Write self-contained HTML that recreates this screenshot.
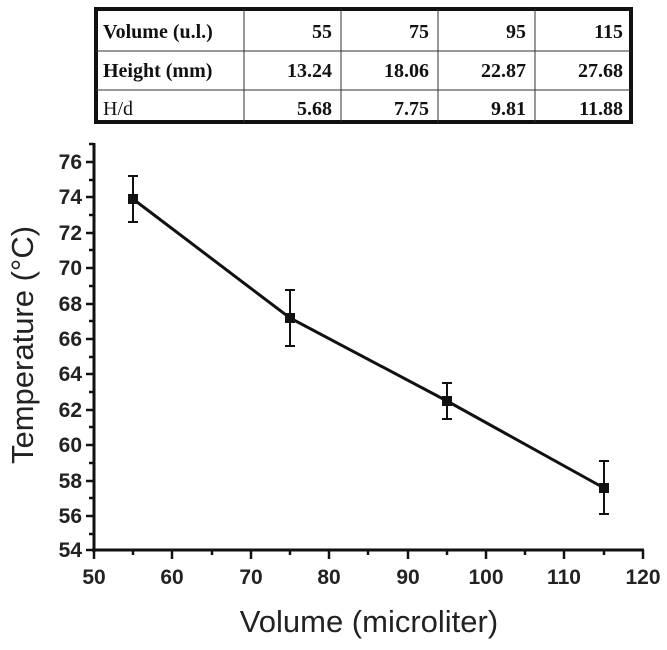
<!DOCTYPE html>
<html><head><meta charset="utf-8"><style>
body{margin:0;background:#fff;width:667px;height:645px;overflow:hidden}
</style></head><body>
<svg width="667" height="645" xmlns="http://www.w3.org/2000/svg" font-family="Liberation Sans, sans-serif">
<!-- table -->
<g font-family="Liberation Serif, serif" font-weight="bold" font-size="20" fill="#111">
<rect x="96" y="9" width="535" height="113" fill="none" stroke="#111" stroke-width="4"/>
<line x1="96" y1="51" x2="631" y2="51" stroke="#333" stroke-width="1"/>
<line x1="96" y1="90" x2="631" y2="90" stroke="#333" stroke-width="1"/>
<line x1="244" y1="9" x2="244" y2="122" stroke="#333" stroke-width="1"/>
<line x1="341" y1="9" x2="341" y2="122" stroke="#333" stroke-width="1"/>
<line x1="438" y1="9" x2="438" y2="122" stroke="#333" stroke-width="1"/>
<line x1="535" y1="9" x2="535" y2="122" stroke="#333" stroke-width="1"/>
<text x="103" y="38">Volume (u.l.)</text>
<text x="103" y="77">Height (mm)</text>
<text x="103" y="115" font-weight="normal">H/d</text>
<g text-anchor="end">
<text x="332" y="38">55</text><text x="429" y="38">75</text><text x="526" y="38">95</text><text x="623" y="38">115</text>
<text x="332" y="77">13.24</text><text x="429" y="77">18.06</text><text x="526" y="77">22.87</text><text x="623" y="77">27.68</text>
<text x="332" y="115">5.68</text><text x="429" y="115">7.75</text><text x="526" y="115">9.81</text><text x="623" y="115">11.88</text>
</g></g>
<!-- axes -->
<g stroke="#111" stroke-width="3" fill="none">
<line x1="94" y1="143" x2="94" y2="552"/>
<line x1="92" y1="550" x2="644" y2="550"/>
</g>
<g stroke="#111" stroke-width="2.5">
<line x1="86" y1="162" x2="94" y2="162"/><line x1="86" y1="197" x2="94" y2="197"/><line x1="86" y1="233" x2="94" y2="233"/><line x1="86" y1="268" x2="94" y2="268"/><line x1="86" y1="304" x2="94" y2="304"/><line x1="86" y1="339" x2="94" y2="339"/><line x1="86" y1="374" x2="94" y2="374"/><line x1="86" y1="410" x2="94" y2="410"/><line x1="86" y1="445" x2="94" y2="445"/><line x1="86" y1="481" x2="94" y2="481"/><line x1="86" y1="516" x2="94" y2="516"/><line x1="86" y1="550" x2="94" y2="550"/>
<line x1="89" y1="144" x2="94" y2="144"/><line x1="89" y1="180" x2="94" y2="180"/><line x1="89" y1="215" x2="94" y2="215"/><line x1="89" y1="250" x2="94" y2="250"/><line x1="89" y1="286" x2="94" y2="286"/><line x1="89" y1="321" x2="94" y2="321"/><line x1="89" y1="357" x2="94" y2="357"/><line x1="89" y1="392" x2="94" y2="392"/><line x1="89" y1="427" x2="94" y2="427"/><line x1="89" y1="463" x2="94" y2="463"/><line x1="89" y1="498" x2="94" y2="498"/><line x1="89" y1="534" x2="94" y2="534"/>
<line x1="94" y1="550" x2="94" y2="559"/><line x1="172" y1="550" x2="172" y2="559"/><line x1="251" y1="550" x2="251" y2="559"/><line x1="329" y1="550" x2="329" y2="559"/><line x1="408" y1="550" x2="408" y2="559"/><line x1="486" y1="550" x2="486" y2="559"/><line x1="564" y1="550" x2="564" y2="559"/><line x1="643" y1="550" x2="643" y2="559"/>
<line x1="133" y1="550" x2="133" y2="555"/><line x1="212" y1="550" x2="212" y2="555"/><line x1="290" y1="550" x2="290" y2="555"/><line x1="368" y1="550" x2="368" y2="555"/><line x1="447" y1="550" x2="447" y2="555"/><line x1="525" y1="550" x2="525" y2="555"/><line x1="604" y1="550" x2="604" y2="555"/>
</g>
<g font-size="21" font-weight="bold" fill="#222" text-anchor="end">
<text x="82" y="169">76</text><text x="82" y="204">74</text><text x="82" y="240">72</text><text x="82" y="275">70</text><text x="82" y="311">68</text><text x="82" y="346">66</text><text x="82" y="381">64</text><text x="82" y="417">62</text><text x="82" y="452">60</text><text x="82" y="488">58</text><text x="82" y="523">56</text><text x="82" y="557">54</text>
</g>
<g font-size="21" font-weight="bold" fill="#222" text-anchor="middle">
<text x="94" y="584">50</text><text x="172" y="584">60</text><text x="251" y="584">70</text><text x="329" y="584">80</text><text x="408" y="584">90</text><text x="486" y="584">100</text><text x="564" y="584">110</text><text x="643" y="584">120</text>
</g>
<text x="369" y="632" font-size="31" text-anchor="middle" fill="#222">Volume (microliter)</text>
<text transform="translate(33,345) rotate(-90)" font-size="31" text-anchor="middle" fill="#222">Temperature (°C)</text>
<!-- data -->
<polyline points="133,199 290,318 447,401 604,488" fill="none" stroke="#111" stroke-width="3"/>
<g stroke="#111" stroke-width="2">
<line x1="133" y1="176" x2="133" y2="222"/><line x1="128" y1="176" x2="138" y2="176"/><line x1="128" y1="222" x2="138" y2="222"/>
<line x1="290" y1="290" x2="290" y2="346"/><line x1="285" y1="290" x2="295" y2="290"/><line x1="285" y1="346" x2="295" y2="346"/>
<line x1="447" y1="383" x2="447" y2="419"/><line x1="442" y1="383" x2="452" y2="383"/><line x1="442" y1="419" x2="452" y2="419"/>
<line x1="604" y1="461" x2="604" y2="514"/><line x1="599" y1="461" x2="609" y2="461"/><line x1="599" y1="514" x2="609" y2="514"/>
</g>
<g fill="#111">
<rect x="128" y="194" width="10" height="10"/><rect x="285" y="313" width="10" height="10"/><rect x="442" y="396" width="10" height="10"/><rect x="599" y="483" width="10" height="10"/>
</g>
</svg>
</body></html>
